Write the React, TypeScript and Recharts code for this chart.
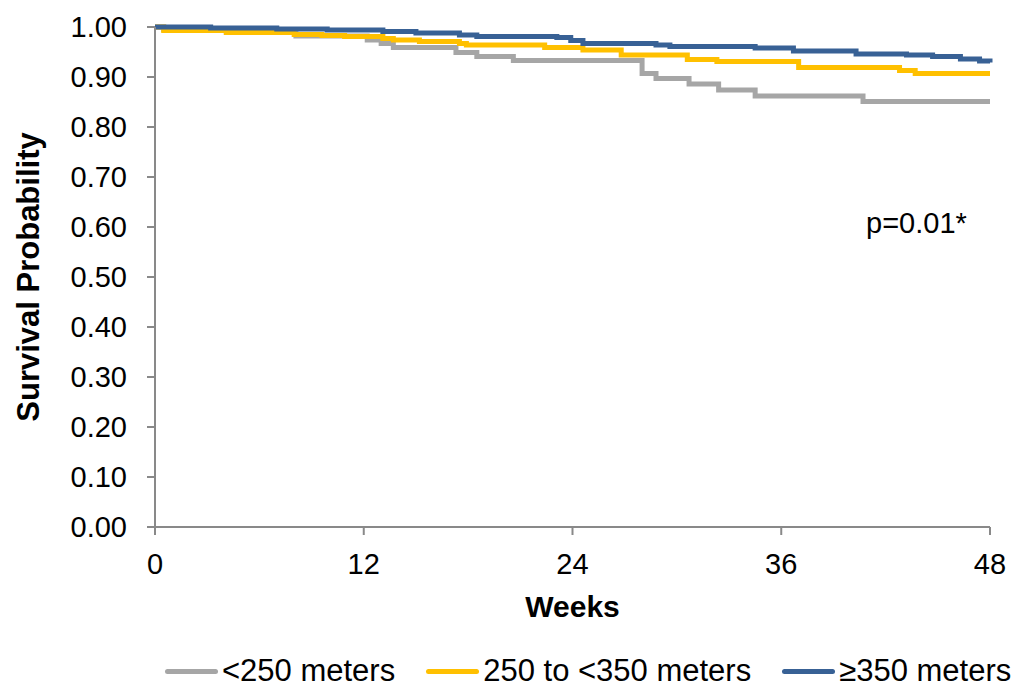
import { LineChart, Line, XAxis, YAxis, Legend } from 'recharts'

// Kaplan-Meier step points (weeks / survival)
const grayWeeks = [0, 0.5, 4.1, 8.1, 12.2, 13.0, 13.7, 17.3, 18.5, 20.6, 28.0, 28.8, 30.7, 32.4, 34.5, 40.7, 48]
const grayValues = [1.0, 0.995, 0.99, 0.982, 0.974, 0.967, 0.959, 0.949, 0.941, 0.933, 0.907, 0.897, 0.886, 0.874, 0.862, 0.851, 0.851]

const yellowWeeks = [0, 0.5, 4.1, 8.0, 9.6, 10.9, 13.1, 13.7, 15.2, 17.5, 17.9, 22.4, 24.6, 26.8, 30.6, 32.3, 37.0, 42.8, 43.7, 48]
const yellowValues = [1.0, 0.993, 0.989, 0.985, 0.983, 0.981, 0.977, 0.974, 0.971, 0.967, 0.964, 0.959, 0.954, 0.944, 0.935, 0.931, 0.919, 0.913, 0.907, 0.907]

const blueWeeks = [0, 3.2, 7.0, 9.9, 13.1, 15.0, 17.5, 18.5, 23.1, 23.9, 24.6, 28.8, 29.6, 34.5, 36.7, 40.3, 43.2, 44.7, 46.3, 47.4, 48]
const blueValues = [1.0, 0.998, 0.996, 0.994, 0.991, 0.988, 0.984, 0.981, 0.979, 0.973, 0.967, 0.964, 0.961, 0.958, 0.952, 0.946, 0.944, 0.941, 0.936, 0.932, 0.929]

const seriesNames = ['<250 meters', '250 to <350 meters', '≥350 meters']
const seriesColors = ['#A6A6A6', '#FFC000', '#386195']

const xTicks = [0, 12, 24, 36, 48]
const yTicks = [0, 0.1, 0.2, 0.3, 0.4, 0.5, 0.6, 0.7, 0.8, 0.9, 1.0]

const toPoints = (weeks: number[], values: number[]) =>
  weeks.map((week, i) => ({ week, value: values[i] }))

const series = [
  toPoints(grayWeeks, grayValues),
  toPoints(yellowWeeks, yellowValues),
  toPoints(blueWeeks, blueValues),
]

const axisColor = '#898989'

function renderLegend() {
  return (
    <div style={{ display: 'flex', alignItems: 'center', height: 34, paddingLeft: 165, fontSize: 31, color: '#000' }}>
      {seriesNames.map((name, i) => (
        <div key={name} style={{ display: 'flex', alignItems: 'center', marginRight: 31 }}>
          <span style={{ display: 'inline-block', width: 53, height: 5, borderRadius: 3, background: seriesColors[i], marginRight: 4 }} />
          <span style={{ whiteSpace: 'nowrap' }}>{name}</span>
        </div>
      ))}
    </div>
  )
}

export default function App() {
  return (
    <div style={{ position: 'absolute', left: 0, top: 0, width: 1014, height: 688, fontFamily: '"Liberation Sans", Arial, sans-serif', background: '#fff' }}>
      <LineChart width={1014} height={688} margin={{ top: 27, right: 24, bottom: 0, left: 0 }}>
        <XAxis
          type="number"
          dataKey="week"
          domain={[0, 48]}
          ticks={xTicks}
          height={127}
          tickSize={8}
          tickMargin={18}
          stroke={axisColor}
          strokeWidth={2}
          tick={{ fill: '#000', fontSize: 29 }}
          label={{ value: 'Weeks', position: 'insideTop', offset: 69, fill: '#000', fontSize: 30, fontWeight: 'bold' }}
        />
        <YAxis
          type="number"
          domain={[0, 1]}
          ticks={yTicks}
          width={155}
          tickSize={8}
          tickMargin={20}
          stroke={axisColor}
          strokeWidth={2}
          tickFormatter={(v: number) => v.toFixed(2)}
          tick={{ fill: '#000', fontSize: 29 }}
          label={{ value: 'Survival Probability', angle: -90, position: 'insideLeft', offset: 28, fill: '#000', fontSize: 31, fontWeight: 'bold', style: { textAnchor: 'middle' } }}
        />
        <Legend verticalAlign="bottom" content={renderLegend} wrapperStyle={{ height: 34 }} />
        {series.map((data, i) => (
          <Line
            key={seriesNames[i]}
            data={data}
            dataKey="value"
            name={seriesNames[i]}
            type="stepAfter"
            stroke={seriesColors[i]}
            strokeWidth={5}
            dot={false}
            activeDot={false}
            isAnimationActive={false}
          />
        ))}
      </LineChart>
      <div style={{ position: 'absolute', left: 866, top: 209, fontSize: 29, lineHeight: '29px', color: '#000' }}>p=0.01*</div>
    </div>
  )
}
